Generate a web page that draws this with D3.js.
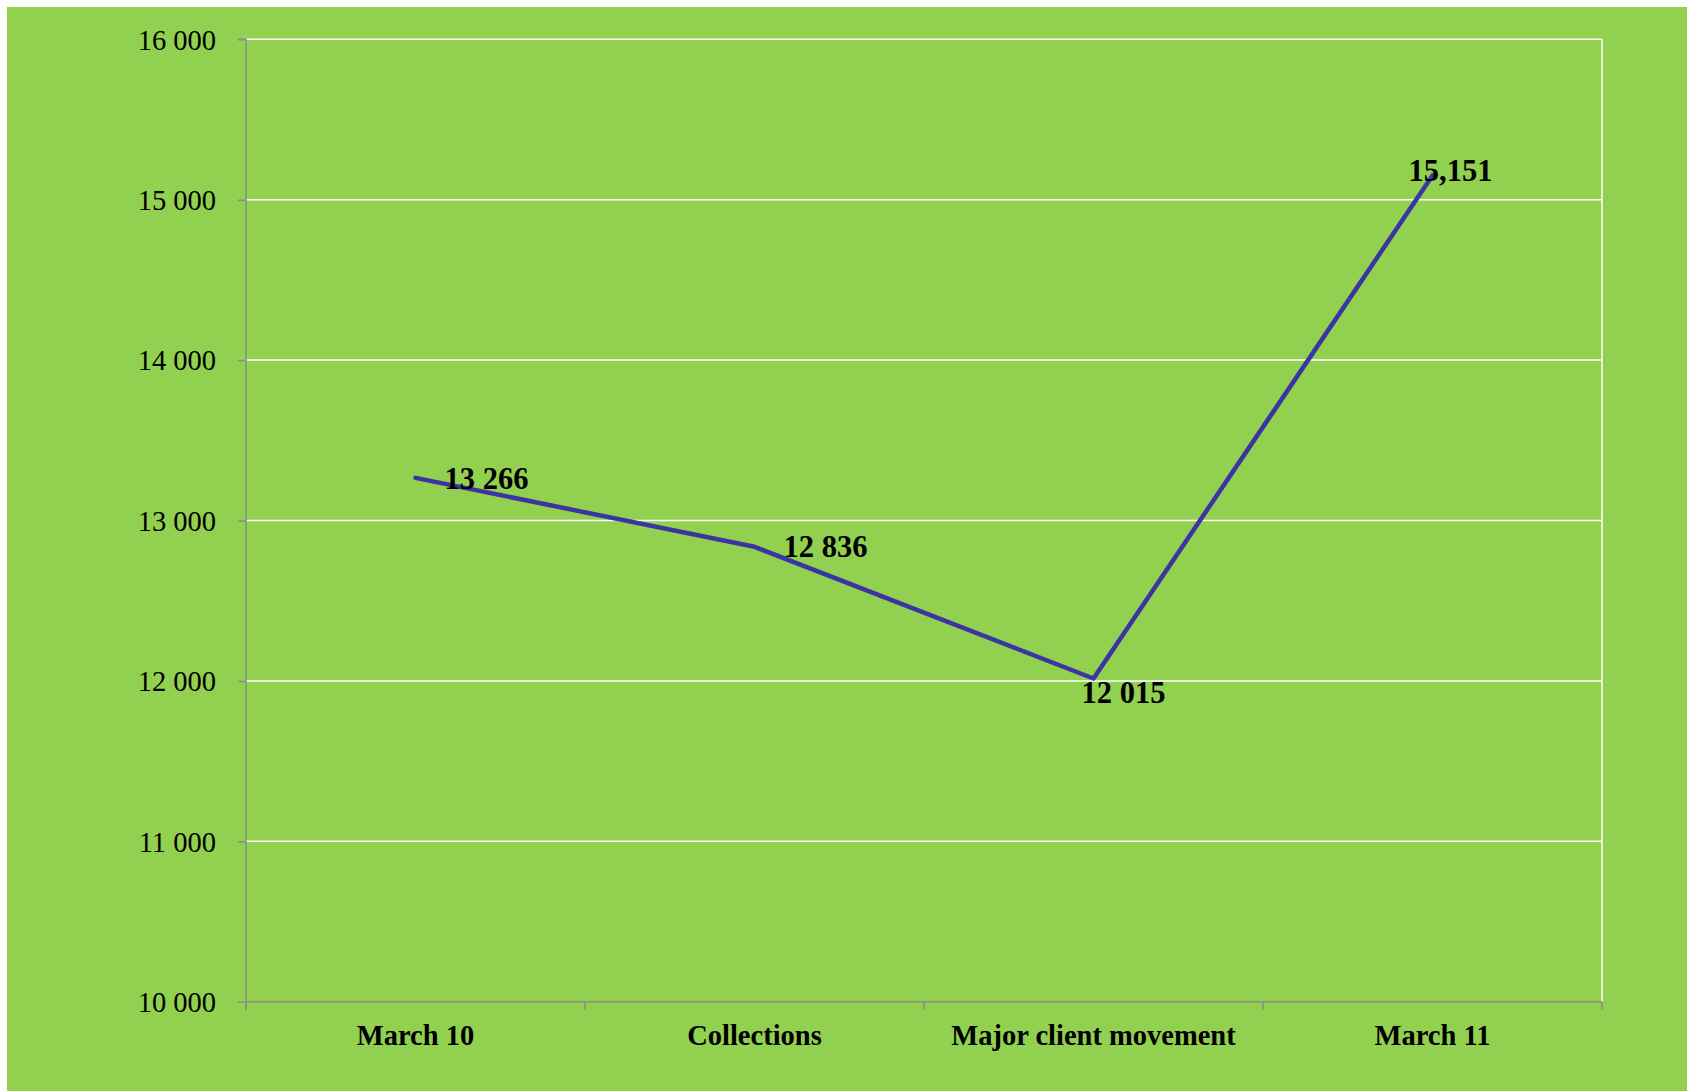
<!DOCTYPE html>
<html>
<head>
<meta charset="utf-8">
<script src="https://cdn.jsdelivr.net/npm/d3@7"></script>
<style>
  html, body { margin: 0; padding: 0; background: #ffffff; }
  svg { display: block; }
</style>
</head>
<body>
<svg id="chart" width="1694" height="1091"></svg>
<script>
// ---- data ----
const categories = ["March 10", "Collections", "Major client movement", "March 11"];
const values = [13266, 12836, 12015, 15151];
const valueLabels = ["13 266", "12 836", "12 015", "15,151"];
const yTicks = [10000, 11000, 12000, 13000, 14000, 15000, 16000];
const yTickLabels = ["10 000", "11 000", "12 000", "13 000", "14 000", "15 000", "16 000"];
// label offsets (dx, dy) relative to each point
const labelOffsets = [[29, 11], [29, 10], [-12, 25], [-24, 6]];

const svg = d3.select("#chart");
const W = 1694, H = 1091;
const fontFamily = "'Liberation Serif', 'Times New Roman', serif";

// background
svg.append("rect").attr("x", 7).attr("y", 7).attr("width", 1680).attr("height", H - 7)
  .attr("fill", "#92d050");

const m = { left: 246, right: 1602, top: 39.3, bottom: 1001.7 };

const x = d3.scaleBand().domain(categories).range([m.left, m.right]).padding(0);
const y = d3.scaleLinear().domain([10000, 16000]).range([m.bottom, m.top]);

// gridlines
svg.append("g").selectAll("line").data(yTicks.filter(t => t !== 10000)).join("line")
  .attr("x1", m.left).attr("x2", m.right)
  .attr("y1", d => y(d)).attr("y2", d => y(d))
  .attr("stroke", "#ffffff").attr("stroke-width", 1.5);

// right border of plot area
svg.append("line").attr("x1", m.right).attr("x2", m.right)
  .attr("y1", m.top).attr("y2", m.bottom)
  .attr("stroke", "#ffffff").attr("stroke-width", 1.5);

// y axis
const yAxis = d3.axisLeft(y).tickValues(yTicks)
  .tickFormat((d, i) => yTickLabels[i]).tickSize(8).tickPadding(22);
const gy = svg.append("g").attr("transform", `translate(${m.left},0)`).call(yAxis);
gy.select(".domain").attr("stroke", "#8c8c8c").attr("stroke-width", 1.5)
  .attr("d", `M-8,${m.top}H0V${m.bottom + 8}`);
gy.selectAll(".tick line").attr("stroke", "#8c8c8c").attr("stroke-width", 1.5);
gy.selectAll(".tick text").attr("font-family", fontFamily).attr("font-size", 28.5)
  .attr("fill", "#000").attr("dy", "0.34em");

// x axis
const xTickPos = categories.map(c => x(c)).concat([m.right]);
const gx = svg.append("g").attr("transform", `translate(0,${m.bottom})`);
gx.append("line").attr("x1", m.left).attr("x2", m.right).attr("y1", 0).attr("y2", 0)
  .attr("stroke", "#8c8c8c").attr("stroke-width", 1.5);
gx.selectAll("line.tk").data(xTickPos).join("line").attr("class", "tk")
  .attr("x1", d => d).attr("x2", d => d).attr("y1", 0).attr("y2", 8)
  .attr("stroke", "#8c8c8c").attr("stroke-width", 1.5);
gx.selectAll("text").data(categories).join("text")
  .attr("x", d => x(d) + x.bandwidth() / 2).attr("y", 43)
  .attr("text-anchor", "middle")
  .attr("font-family", fontFamily).attr("font-size", 28.5).attr("font-weight", "bold")
  .attr("fill", "#000").text(d => d);

// line
const pts = categories.map((c, i) => [x(c) + x.bandwidth() / 2, y(values[i])]);
svg.append("path").datum(pts)
  .attr("d", d3.line())
  .attr("fill", "none").attr("stroke", "#3a35a3").attr("stroke-width", 4.5)
  .attr("stroke-linecap", "round").attr("stroke-linejoin", "round");

// data labels
svg.append("g").selectAll("text").data(pts).join("text")
  .attr("x", (d, i) => d[0] + labelOffsets[i][0])
  .attr("y", (d, i) => d[1] + labelOffsets[i][1])
  .attr("font-family", fontFamily).attr("font-size", 30.5).attr("font-weight", "bold")
  .attr("fill", "#000").text((d, i) => valueLabels[i]);
</script>
</body>
</html>
